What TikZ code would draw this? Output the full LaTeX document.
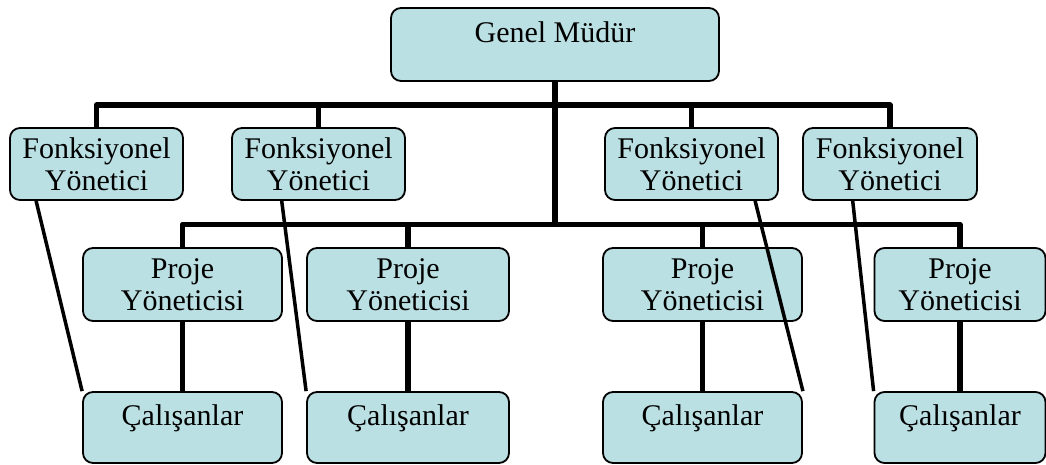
\documentclass[tikz,border=0pt]{standalone}
\usepackage{fontspec}
\setmainfont{Liberation Serif}
\definecolor{boxfill}{RGB}{186,224,227}
\begin{document}
\begin{tikzpicture}[x=1pt,y=-1pt,
  unit/.style={draw=black, line width=1.8pt, fill=boxfill, rounded corners=10pt,
    inner sep=0pt, font=\fontsize{30}{32}\selectfont, align=center},
  twoline/.style={unit, minimum height=72pt},
  oneline/.style={unit, text height=33pt, text depth=38pt},
  trunk/.style={line width=5.5pt, line join=round},
  link/.style={line width=3.5pt},
]
\useasboundingbox (0,0) rectangle (1046,464);

% top
\node[oneline, minimum width=328pt, text height=34pt, text depth=39pt] (gm) at (555,44.5) {Genel Müdür};

% functional managers
\node[twoline, minimum width=173pt] (f1) at (96.5,164) {Fonksiyonel\\Yönetici};
\node[twoline, minimum width=173pt] (f2) at (318.5,164) {Fonksiyonel\\Yönetici};
\node[twoline, minimum width=173pt] (f3) at (691.5,164) {Fonksiyonel\\Yönetici};
\node[twoline, minimum width=174pt] (f4) at (890,164) {Fonksiyonel\\Yönetici};

% project managers
\node[twoline, minimum width=199pt, minimum height=73pt] (p1) at (182.5,284.5) {Proje\\Yöneticisi};
\node[twoline, minimum width=202pt, minimum height=73pt] (p2) at (408,284.5) {Proje\\Yöneticisi};
\node[twoline, minimum width=199pt, minimum height=73pt] (p3) at (702.5,284.5) {Proje\\Yöneticisi};
\node[twoline, minimum width=171pt, minimum height=73pt] (p4) at (960,284.5) {Proje\\Yöneticisi};

% staff
\node[oneline, minimum width=199pt] (c1) at (182.5,427.5) {Çalışanlar};
\node[oneline, minimum width=202pt] (c2) at (408,427.5) {Çalışanlar};
\node[oneline, minimum width=199pt] (c3) at (702.5,427.5) {Çalışanlar};
\node[oneline, minimum width=171pt] (c4) at (960,427.5) {Çalışanlar};

% bus lines
\coordinate (bar1) at (555,105);
\coordinate (bar2) at (555,224.5);

\draw[trunk] (f1.north) |- (bar1) -| (f4.north);
\draw[trunk] (f2.north) -- (f2.north |- bar1);
\draw[trunk] (f3.north) -- (f3.north |- bar1);
\draw[trunk] (gm.south) -- (gm.south |- bar2);
\draw[trunk] (p1.north) |- (bar2) -| (p4.north);
\draw[trunk] (p2.north) -- (p2.north |- bar2);
\draw[trunk] (p3.north) -- (p3.north |- bar2);
\foreach \i in {1,2,3,4} {
  \draw[trunk] (p\i.south) -- (c\i.north);
}

% functional links to staff
\draw[link] ([xshift=27pt]f1.south west) -- (c1.north west);
\draw[link] ([xshift=50.6pt]f2.south west) -- (c2.north west);
\draw[link] ([xshift=151pt]f3.south west) -- (c3.north east);
\draw[link] ([xshift=50.6pt]f4.south west) -- (c4.north west);
\end{tikzpicture}
\end{document}
